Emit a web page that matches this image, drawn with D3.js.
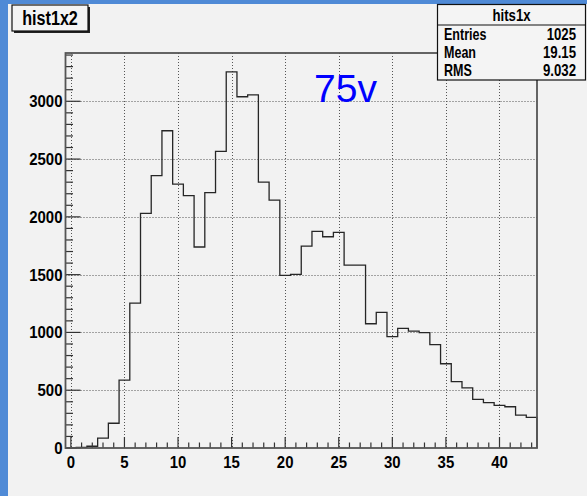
<!DOCTYPE html>
<html>
<head>
<meta charset="utf-8">
<script src="https://cdn.jsdelivr.net/npm/d3@7"></script>
<style>
  html, body { margin: 0; padding: 0; background: #4f8ad6; }
  svg { display: block; }
  .lbl { font-family: "Liberation Sans", Arial, sans-serif; font-weight: bold; fill: #000; }
</style>
</head>
<body>
<svg id="chart" width="587" height="496"></svg>
<script>
// Histogram contents: one count per unit-wide bin, bins centred on 0..43
const binCenters = d3.range(0, 44);
const counts = [0, 5, 15, 85, 214, 588, 1254, 2030, 2356, 2745,
                2284, 2183, 1739, 2209, 2566, 3255, 3039, 3056, 2301, 2145,
                1494, 1502, 1747, 1874, 1828, 1866, 1583, 1583, 1075, 1174,
                963, 1035, 1011, 999, 894, 729, 574, 521, 421, 392,
                369, 357, 285, 265];
const xTicks = [0, 5, 10, 15, 20, 25, 30, 35, 40];
const yTicks = [0, 500, 1000, 1500, 2000, 2500, 3000];
const statLabels = ["Entries", "Mean", "RMS"];
const statValues = ["1025", "19.15", "9.032"];
const histTitle = "hist1x2";
const statTitle = "hits1x";
const annotation = "75v";

const svg = d3.select("#chart");
const W = 587, H = 496;

// condensed bold label: text squeezed horizontally around its anchor point
function label(g, x0, y0, txt, size, anchor, sx) {
  return g.append("text").attr("class", "lbl")
    .attr("transform", `translate(${x0},${y0}) scale(${sx},1)`)
    .attr("text-anchor", anchor).attr("font-size", size).text(txt);
}

// canvas
svg.append("rect").attr("x", 8).attr("y", 4).attr("width", W - 8).attr("height", H - 4).attr("fill", "#f2f2f2");

const frame = { left: 65.5, right: 537, top: 53, bottom: 448 };
const binWidth = 1;
const x = d3.scaleLinear()
  .domain([binCenters[0] - binWidth / 2, binCenters[binCenters.length - 1] + binWidth / 2])
  .range([frame.left, frame.right]);
const y = d3.scaleLinear()
  .domain([0, 1.05 * d3.max(counts)])
  .range([frame.bottom, frame.top]);

// dotted grid
const grid = svg.append("g").attr("stroke", "#555").attr("stroke-width", 1).attr("stroke-dasharray", "1,2");
grid.selectAll("line.v").data(xTicks).join("line").attr("class", "v")
  .attr("x1", d => Math.round(x(d)) + 0.5).attr("x2", d => Math.round(x(d)) + 0.5)
  .attr("y1", frame.top).attr("y2", frame.bottom);
grid.selectAll("line.h").data(yTicks.filter(d => d > 0)).join("line").attr("class", "h")
  .attr("y1", d => Math.round(y(d)) + 0.5).attr("y2", d => Math.round(y(d)) + 0.5)
  .attr("x1", frame.left).attr("x2", frame.right);

// histogram outline as a step path
const pts = [];
pts.push([x(binCenters[0] - binWidth / 2), y(0)]);
binCenters.forEach((c, i) => {
  pts.push([x(c - binWidth / 2), y(counts[i])]);
  pts.push([x(c + binWidth / 2), y(counts[i])]);
});
pts.push([x(binCenters[binCenters.length - 1] + binWidth / 2), y(0)]);
svg.append("path")
  .attr("d", d3.line()(pts))
  .attr("fill", "none").attr("stroke", "#262626").attr("stroke-width", 1.3);

// axes: major + minor ticks drawn inward
const axisG = svg.append("g").attr("stroke", "#333").attr("stroke-width", 1.2);
const xMinor = d3.range(0, 44);
axisG.selectAll("line.xm").data(xMinor).join("line")
  .attr("x1", d => x(d)).attr("x2", d => x(d))
  .attr("y1", frame.bottom).attr("y2", d => frame.bottom - (d % 5 === 0 ? 11 : 5.5));
const yMinor = d3.range(0, 3401, 100);
axisG.selectAll("line.ym").data(yMinor).join("line")
  .attr("y1", d => y(d)).attr("y2", d => y(d))
  .attr("x1", frame.left).attr("x2", d => frame.left + (d % 500 === 0 ? 15 : 7.5));

// frame
svg.append("rect")
  .attr("x", frame.left).attr("y", frame.top)
  .attr("width", frame.right - frame.left).attr("height", frame.bottom - frame.top)
  .attr("fill", "none").attr("stroke", "#555").attr("stroke-width", 1.8);

// tick labels
const labels = svg.append("g");
xTicks.forEach(d => label(labels, x(d), 467.5, d, 17, "middle", 0.88));
yTicks.forEach(d => label(labels, 62.5, y(d) + 6, d, 17, "end", 0.88));

// annotation
svg.append("text").attr("x", 314).attr("y", 102)
  .attr("font-family", "'Liberation Sans', Arial, sans-serif").attr("font-size", 39)
  .attr("fill", "#0000ff").text(annotation);

// title box with shadow
svg.append("rect").attr("x", 14).attr("y", 7).attr("width", 76).attr("height", 26).attr("fill", "#222");
svg.append("rect").attr("x", 12).attr("y", 5).attr("width", 76).attr("height", 26)
  .attr("fill", "#f4f4f4").attr("stroke", "#111").attr("stroke-width", 1.2);
label(svg, 50, 25, histTitle, 19.5, "middle", 0.83);

// statistics box
const sb = { x: 437.5, y: 4.5, w: 148, h: 75.5 };
svg.append("rect").attr("x", sb.x).attr("y", sb.y).attr("width", sb.w).attr("height", sb.h)
  .attr("fill", "#f4f4f4").attr("stroke", "#111").attr("stroke-width", 1.2);
svg.append("line").attr("x1", sb.x).attr("x2", sb.x + sb.w).attr("y1", 25).attr("y2", 25)
  .attr("stroke", "#111").attr("stroke-width", 1);
label(svg, sb.x + sb.w / 2, 20.5, statTitle, 16.5, "middle", 0.8);
const rowY = [39.5, 57.5, 76];
statLabels.forEach((d, i) => label(svg, 444, rowY[i], d, 16.5, "start", 0.76));
statValues.forEach((d, i) => label(svg, 576, rowY[i], d, 16.5, "end", 0.8));
</script>
</body>
</html>
